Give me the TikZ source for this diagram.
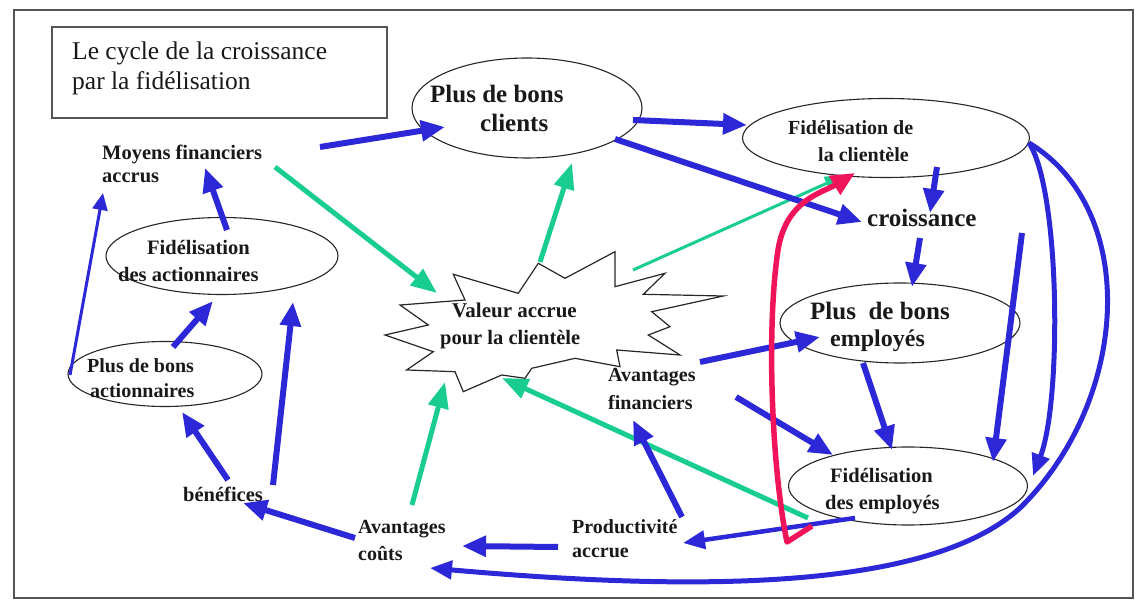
\documentclass[tikz,border=0pt]{standalone}
\usepackage{fontspec}
\setmainfont{Liberation Serif}
\usetikzlibrary{arrows.meta,shapes.geometric}
\definecolor{arrblue}{RGB}{45,40,215}
\definecolor{arrgreen}{RGB}{25,205,145}
\definecolor{arrred}{RGB}{240,20,90}
\definecolor{framegray}{RGB}{85,85,85}
\definecolor{txt}{RGB}{25,25,25}
\tikzset{
  ell/.style={ellipse, draw=black!85, line width=1.1pt, inner sep=0pt},
  lb/.style={font=\bfseries\fontsize{20.5}{24}\selectfont, text=txt, inner sep=0pt, anchor=base west},
  lbig/.style={lb, font=\bfseries\fontsize{25}{30}\selectfont},
  ttl/.style={font=\fontsize{25.5}{30}\selectfont, text=txt, inner sep=0pt, anchor=base west},
  bluearr/.style={draw=arrblue, line width=6pt, -{Triangle[length=24pt,width=20pt]}},
  bluemid/.style={draw=arrblue, line width=4.5pt, -{Triangle[length=22pt,width=18pt]}},
  bluethin/.style={draw=arrblue, line width=3pt, -{Triangle[length=17pt,width=15pt]}},
  greenarr/.style={draw=arrgreen, line width=5pt, -{Triangle[length=26pt,width=20pt]}},
  greenthin/.style={draw=arrgreen, line width=3pt, -{Triangle[length=18pt,width=14pt]}},
  redarr/.style={draw=arrred, line width=5.5pt, line join=round, -{Triangle[length=24pt,width=21pt]}},
}
\begin{document}
\begin{tikzpicture}[x=1pt,y=-1pt]
\useasboundingbox (0,0) rectangle (1144,601);
% frames
\draw[framegray, line width=1.6pt] (14,10) rectangle (1133,598);
\draw[framegray, line width=1.6pt] (52,27) rectangle (387,118);
\node[ttl] (title1) at (72,60) {Le cycle de la croissance};
\node[ttl] (title2) at (72,90) {par la fidélisation};

% ellipses
\node[ell, minimum width=230pt, minimum height=100pt] (clients) at (527,108) {};
\node[ell, minimum width=287pt, minimum height=79pt] (fclient) at (886,138) {};
\node[ell, minimum width=240pt, minimum height=80pt] (pemp) at (900,323) {};
\node[ell, minimum width=239pt, minimum height=78pt] (femp) at (908,486) {};
\node[ell, minimum width=232pt, minimum height=77pt] (fact) at (222,256) {};
\node[ell, minimum width=194pt, minimum height=65pt] (pact) at (165,374) {};

% starburst
\coordinate (star) at (555,320);
\draw[black!85, line width=1.2pt, line join=miter]
 (453.3,274.3) -- (518.3,293.3) -- (538.3,263.3) -- (565,278.3) -- (615,251.7) -- (615,286.7)
 -- (665,273.3) -- (643.3,294.3) -- (723.3,296) -- (651.7,311.7) -- (670,326.7) -- (648.3,335)
 -- (680,355) -- (616.7,350) -- (620,366.7) -- (575,358.3) -- (531.7,368.3) -- (525,378.3)
 -- (501.7,375) -- (463.3,391.7) -- (455,371.7) -- (406.7,370) -- (433.3,351.7) -- (385,335)
 -- (428.3,325) -- (400,305) -- (465,300) -- cycle;

% labels
\node[lbig] (tcl1) at (430,103) {Plus de bons};
\node[lbig] (tcl2) at (480,132) {clients};
\node[lb, font=\bfseries\fontsize{20}{24}\selectfont] (tfc1) at (788,135) {Fidélisation de};
\node[lb, font=\bfseries\fontsize{20}{24}\selectfont] (tfc2) at (818,162) {la clientèle};
\node[lbig] (tcroi) at (867,227) {croissance};
\node[lbig] (tpe1) at (810,320) {Plus\ \ de bons};
\node[lbig, font=\bfseries\fontsize{24}{30}\selectfont] (tpe2) at (830,347) {employés};
\node[lb] (tfe1) at (830,483) {Fidélisation};
\node[lb] (tfe2) at (825,510) {des employés};
\node[lb] (tmo1) at (102,160) {Moyens financiers};
\node[lb] (tmo2) at (102,183) {accrus};
\node[lb] (tfa1) at (147,255) {Fidélisation};
\node[lb] (tfa2) at (118,282) {des actionnaires};
\node[lb, font=\bfseries\fontsize{20}{24}\selectfont] (tpa1) at (87,373) {Plus de bons};
\node[lb, font=\bfseries\fontsize{20}{24}\selectfont] (tpa2) at (90,398) {actionnaires};
\node[lb] (tben) at (183,502) {bénéfices};
\node[lb, font=\bfseries\fontsize{20}{24}\selectfont] (tac1) at (358,533) {Avantages};
\node[lb, font=\bfseries\fontsize{20}{24}\selectfont] (tac2) at (358,560) {coûts};
\node[lb, font=\bfseries\fontsize{20}{24}\selectfont] (tpr1) at (572,533) {Productivité};
\node[lb, font=\bfseries\fontsize{20}{24}\selectfont] (tpr2) at (572,558) {accrue};
\node[lb, font=\bfseries\fontsize{20}{24}\selectfont] (taf1) at (608,382) {Avantages};
\node[lb, font=\bfseries\fontsize{20}{24}\selectfont] (taf2) at (608,410) {financiers};
\node[lb, font=\bfseries\fontsize{21}{24}\selectfont] (tva1) at (452,318) {Valeur accrue};
\node[lb] (tva2) at (440,345) {pour la clientèle};

% connector end points
\coordinate (a1s) at (320,147);  \coordinate (a1e) at (445,127);
\coordinate (a2s) at (633,120);  \coordinate (a2e) at (747,125);
\coordinate (a3s) at (615,139);  \coordinate (a3e) at (862,222);
\coordinate (a4s) at (937,167);  \coordinate (a4e) at (930,213);
\coordinate (a5s) at (920,238);  \coordinate (a5e) at (912,287);
\coordinate (a6s) at (700,362);  \coordinate (a6e) at (820,337);
\coordinate (a7s) at (736,397);  \coordinate (a7e) at (833,455);
\coordinate (a8s) at (863,363);  \coordinate (a8e) at (892,450);
\coordinate (a9s) at (1022,233); \coordinate (a9e) at (993,462);
\coordinate (a12s) at (855,518); \coordinate (a12e) at (683,543);
\coordinate (a13s) at (558,547); \coordinate (a13e) at (462,546);
\coordinate (a14s) at (682,517); \coordinate (a14e) at (633,420);
\coordinate (a15s) at (355,538); \coordinate (a15e) at (243,503);
\coordinate (a16s) at (228,480); \coordinate (a16e) at (182,412);
\coordinate (a17s) at (273,485); \coordinate (a17e) at (293,302);
\coordinate (a18s) at (173,347); \coordinate (a18e) at (213,301);
\coordinate (a19s) at (227,230); \coordinate (a19e) at (205,168);
\coordinate (a20s) at (70,375);  \coordinate (a20e) at (103,193);
\coordinate (g1s) at (275,167);  \coordinate (g1e) at (437,293);
\coordinate (g2s) at (540,262);  \coordinate (g2e) at (572,163);
\coordinate (g3s) at (633,270);  \coordinate (g3e) at (843,176);
\coordinate (g4s) at (412,505);  \coordinate (g4e) at (445,382);
\coordinate (g5s) at (808,518);  \coordinate (g5e) at (502,378);
\coordinate (fcr) at (1029,143);
\coordinate (r0) at (812,526); \coordinate (r1) at (787,542); \coordinate (r2) at (778,250); \coordinate (r3) at (855,173);
\coordinate (c10e) at (1033,476);
\coordinate (c11e) at (430,568);

% green arrows
\draw[greenarr] (g1s) -- (g1e);
\draw[greenarr] (g2s) -- (g2e);
\draw[greenthin] (g3s) -- (g3e);
\draw[greenarr] (g4s) -- (g4e);
\draw[greenarr] (g5s) -- (g5e);

% blue arrows
\draw[bluearr] (a1s) -- (a1e);
\draw[bluearr] (a2s) -- (a2e);
\draw[bluearr] (a3s) -- (a3e);
\draw[bluearr] (a4s) -- (a4e);
\draw[bluearr] (a5s) -- (a5e);
\draw[bluearr] (a6s) -- (a6e);
\draw[bluearr] (a7s) -- (a7e);
\draw[bluearr] (a8s) -- (a8e);
\draw[bluearr] (a9s) -- (a9e);
\draw[bluemid] (a12s) -- (a12e);
\draw[bluearr] (a13s) -- (a13e);
\draw[bluearr] (a14s) -- (a14e);
\draw[bluearr] (a15s) -- (a15e);
\draw[bluearr] (a16s) -- (a16e);
\draw[bluearr] (a17s) -- (a17e);
\draw[bluearr] (a18s) -- (a18e);
\draw[bluearr] (a19s) -- (a19e);
\draw[bluethin] (a20s) -- (a20e);
% curved blue arrows from Fidelisation de la clientele
\draw[bluemid, line width=5pt] (fcr) .. controls (1060,190) and (1062,400) .. (c10e);
\draw[bluemid, line width=5pt] (fcr) .. controls (1140,210) and (1130,400) .. (1020,508)
  .. controls (930,590) and (700,592) .. (c11e);

% red arrow
\draw[redarr] (r0) -- (r1) .. controls (772,470) and (766,330) .. (r2)
  .. controls (786,200) and (822,193) .. (r3);
\end{tikzpicture}
\end{document}
